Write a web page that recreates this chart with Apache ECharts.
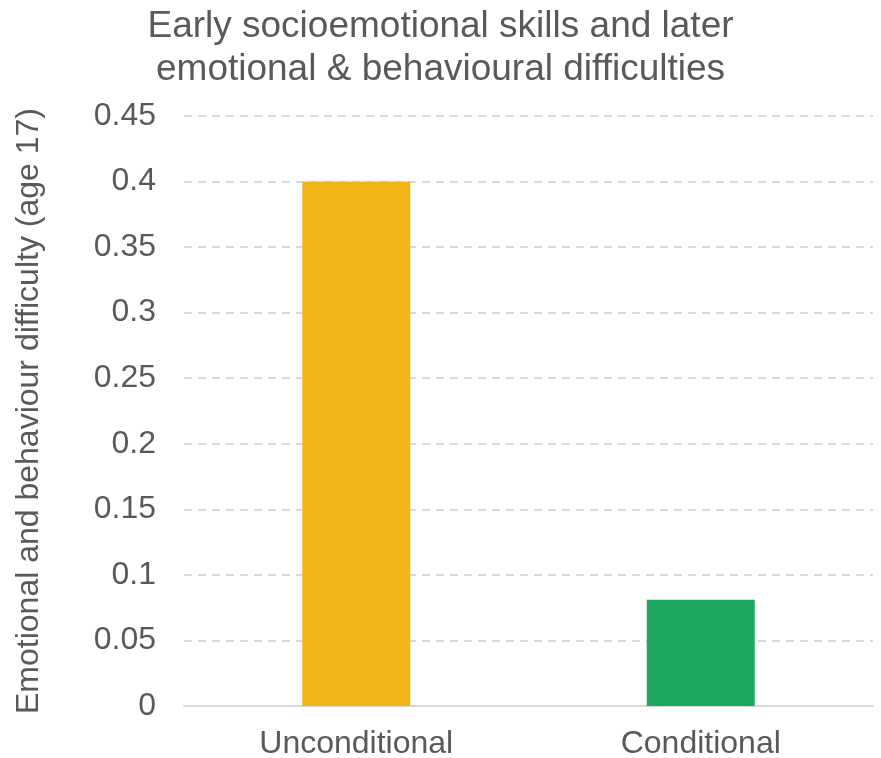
<!DOCTYPE html>
<html>
<head>
<meta charset="utf-8">
<script src="https://cdn.jsdelivr.net/npm/echarts@6/dist/echarts.min.js"></script>
<style>html,body{margin:0;padding:0;background:#fff}#c{width:881px;height:758px}</style>
</head>
<body>
<div id="c"></div>
<script>
const categories = ['Unconditional', 'Conditional'];
const values = [0.40, 0.081];
const barColors = ['#F2B518', '#1EA75F'];
const titleText = 'Early socioemotional skills and later\nemotional & behavioural difficulties';
const yAxisName = 'Emotional and behaviour difficulty (age 17)';

const chart = echarts.init(document.getElementById('c'), null, {renderer: 'canvas'});
chart.setOption({
  animation: false,
  backgroundColor: '#ffffff',
  textStyle: {fontFamily: 'Liberation Sans, Arial, sans-serif'},
  title: {
    text: titleText,
    left: 'center',
    top: 0,
    textStyle: {fontSize: 37, fontWeight: 'normal', color: '#595959', lineHeight: 43, fontFamily: 'Liberation Sans, Arial, sans-serif'}
  },
  grid: {left: 184, right: 8, top: 116, bottom: 52, containLabel: false, outerBoundsMode: 'none'},
  xAxis: {
    type: 'category',
    data: categories,
    axisLine: {lineStyle: {color: '#D9D9D9', width: 2}},
    axisTick: {show: false},
    axisLabel: {color: '#595959', fontSize: 32, margin: 22}
  },
  yAxis: {
    type: 'value',
    min: 0,
    max: 0.45,
    interval: 0.05,
    name: yAxisName,
    nameLocation: 'middle',
    nameGap: 139,
    nameTextStyle: {color: '#595959', fontSize: 32},
    axisLine: {show: false},
    axisTick: {show: false},
    axisLabel: {color: '#595959', fontSize: 32, margin: 28, formatter: v => String(parseFloat(v.toFixed(2)))},
    splitLine: {lineStyle: {color: '#D9D9D9', type: [8, 6], width: 2}}
  },
  series: [{
    type: 'bar',
    barWidth: 108,
    data: values.map((v, i) => ({value: v, itemStyle: {color: barColors[i]}}))
  }]
});
</script>
</body>
</html>
